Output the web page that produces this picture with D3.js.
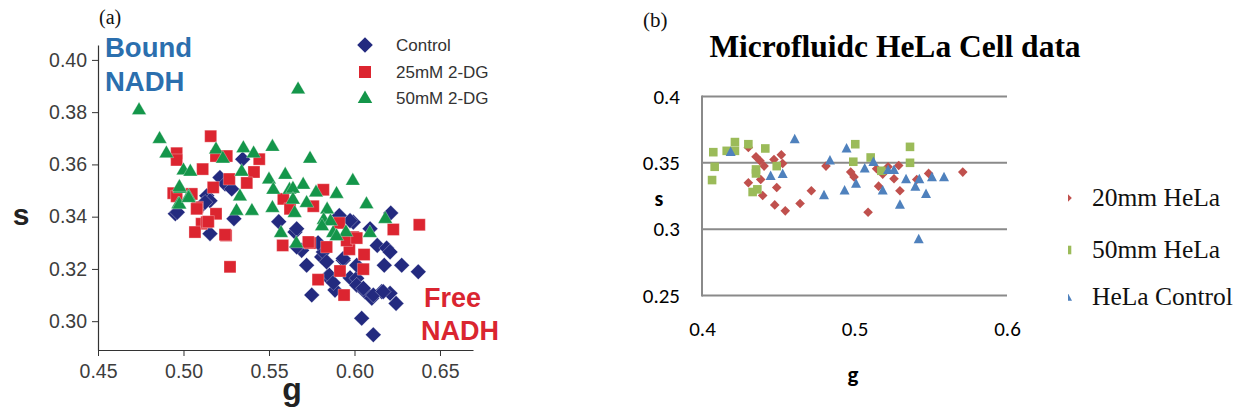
<!DOCTYPE html>
<html><head><meta charset="utf-8">
<script src="https://cdn.jsdelivr.net/npm/d3@7"></script>
<style>body{margin:0;background:#fff} svg{display:block}</style>
</head><body><svg id="c" width="1247" height="417"></svg>
<script>
// ---------- Panel (a) data ----------
const aSeries = ["Control", "25mM 2-DG", "50mM 2-DG"];
const aControl = [
 [0.5346,0.3620],[0.5213,0.3550],[0.5243,0.3525],[0.5282,0.3506],[0.5136,0.3480],[0.5155,0.3461],
 [0.5116,0.3449],[0.4952,0.3411],[0.4964,0.3417],[0.5295,0.3392],[0.5155,0.3335],[0.5126,0.3455],
 [0.5557,0.3381],[0.5652,0.3341],[0.5662,0.3354],[0.5691,0.3271],[0.5720,0.3214],[0.5750,0.3100],
 [0.5808,0.3246],[0.5841,0.3170],[0.5886,0.3119],[0.5934,0.3233],[0.5993,0.3379],[0.5911,0.3404],
 [0.5974,0.3385],[0.6091,0.3354],[0.6133,0.3290],[0.6188,0.3280],[0.6208,0.3265],[0.6212,0.3414],
 [0.5853,0.3176],[0.5974,0.3166],[0.6013,0.3164],[0.6174,0.3214],[0.6276,0.3214],[0.6373,0.3189],
 [0.6013,0.3138],[0.6061,0.3113],[0.6101,0.3088],[0.6159,0.3113],[0.6208,0.3107],[0.6243,0.3068],
 [0.6042,0.3011],[0.6110,0.2948],[0.5818,0.3265],[0.5837,0.3227],[0.5934,0.3240],[0.6013,0.3214],
 [0.5662,0.3284],[0.6052,0.3126],[0.6110,0.3100],[0.6168,0.3113],[0.5876,0.3147],[0.5787,0.3300]
];
const a25mM = [
 [0.5159,0.3708],[0.4960,0.3643],[0.4960,0.3617],[0.5112,0.3582],[0.5190,0.3632],[0.5253,0.3632],
 [0.5443,0.3620],[0.5412,0.3571],[0.5370,0.3529],[0.5268,0.3544],[0.5174,0.3512],[0.4940,0.3490],
 [0.4960,0.3478],[0.5046,0.3487],[0.5081,0.3436],[0.5190,0.3411],[0.5106,0.3373],[0.5067,0.3341],
 [0.5136,0.3379],[0.5249,0.3328],[0.5272,0.3208],[0.5580,0.3290],[0.5584,0.3468],[0.5818,0.3503],
 [0.5759,0.3440],[0.5911,0.3376],[0.5993,0.3322],[0.5740,0.3299],[0.5837,0.3284],[0.5970,0.3275],
 [0.6056,0.3255],[0.6052,0.3199],[0.5915,0.3192],[0.5787,0.3159],[0.5939,0.3100],[0.6227,0.3351],
 [0.6379,0.3369],[0.5048,0.3487],[0.5077,0.3430],[0.5145,0.3381],[0.5243,0.3331],[0.5623,0.3430],
 [0.5730,0.3303],[0.5954,0.3309],[0.6013,0.3318]
];
const a50mM = [
 [0.474,0.381],[0.486,0.370],[0.490,0.3645],[0.500,0.358],[0.504,0.3575],[0.498,0.351],[0.503,0.348],
 [0.497,0.345],[0.519,0.366],[0.523,0.3625],[0.535,0.3665],[0.541,0.3645],[0.552,0.367],[0.534,0.3575],
 [0.533,0.348],[0.531,0.3425],[0.540,0.3425],[0.550,0.3545],[0.5595,0.3563],[0.5525,0.3506],
 [0.552,0.3436],[0.562,0.3506],[0.557,0.334],[0.565,0.3417],[0.567,0.389],[0.574,0.3625],
 [0.570,0.3525],[0.564,0.351],[0.5775,0.3495],[0.5895,0.349],[0.599,0.354],[0.607,0.345],
 [0.564,0.3468],[0.572,0.3455],[0.618,0.3394],[0.584,0.343],[0.582,0.339],[0.586,0.3385],
 [0.581,0.3366],[0.5875,0.334],[0.595,0.3343],[0.609,0.334],[0.566,0.330],[0.5895,0.3328],
 [0.4976,0.3449],[0.4976,0.3516],[0.503,0.3474]
];
const aXTicks = [0.45, 0.50, 0.55, 0.60, 0.65];
const aYTicks = [0.30, 0.32, 0.34, 0.36, 0.38, 0.40];

// ---------- Panel (b) data ----------
const bSeries = ["20mm HeLa", "50mm HeLa", "HeLa Control"];
const b20mm = [
 [0.4304,0.3616],[0.4354,0.3545],[0.4380,0.3515],[0.4407,0.3475],[0.4304,0.3350],[0.4385,0.3374],
 [0.4398,0.3254],[0.4490,0.3314],[0.4472,0.3525],[0.4520,0.3560],[0.4529,0.3495],[0.4477,0.3183],
 [0.4546,0.3138],[0.4643,0.3193],[0.4717,0.3289],[0.4813,0.3475],[0.4975,0.3430],[0.4997,0.3394],
 [0.5089,0.3128],[0.5145,0.3455],[0.5185,0.3415],[0.5220,0.3470],[0.5259,0.3380],[0.5290,0.3480],
 [0.5158,0.3324],[0.5298,0.3289],[0.5408,0.3374],[0.5486,0.3420],[0.5710,0.3430]
];
const b50mm = [
 [0.4074,0.3580],[0.4083,0.3470],[0.4066,0.3370],[0.4162,0.3590],[0.4216,0.3656],[0.4216,0.3590],
 [0.4304,0.3640],[0.4415,0.3608],[0.4354,0.3450],[0.4354,0.3420],[0.4490,0.3475],[0.4332,0.3280],
 [0.4363,0.3300],[0.5005,0.3640],[0.4992,0.3508],[0.5106,0.3540],[0.5176,0.3440],[0.5364,0.3620],
 [0.5364,0.3500]
];
const bControl = [
 [0.4188,0.3580],[0.4450,0.3400],[0.4529,0.3415],[0.4608,0.3676],[0.4839,0.3515],[0.4800,0.3254],
 [0.4935,0.3289],[0.4948,0.3606],[0.5010,0.3340],[0.5067,0.3455],[0.5124,0.3505],[0.5185,0.3289],
 [0.5220,0.3445],[0.5259,0.3445],[0.5298,0.3183],[0.5338,0.3374],[0.5399,0.3319],[0.5425,0.3374],
 [0.5469,0.3264],[0.5508,0.3389],[0.5587,0.3389],[0.5421,0.2922]
];
const bXTicks = [0.4, 0.5, 0.6];
const bYTicks = [0.25, 0.3, 0.35, 0.4];

// ---------- shapes ----------
const diamond = r => `M0,${-r}L${r},0L0,${r}L${-r},0Z`;
const square = r => `M${-r},${-r}h${2*r}v${2*r}h${-2*r}Z`;
const triangle = (w, h) => `M0,${-h*0.6}L${w/2},${h*0.4}L${-w/2},${h*0.4}Z`;

const svg = d3.select("#c");
const sans = "'Liberation Sans', Arial, Helvetica, sans-serif";
const serif = "'Liberation Serif', 'Times New Roman', serif";
const calib = "Carlito, Calibri, Lato, 'Open Sans', sans-serif";

// ================= Panel (a) =================
const xA = d3.scaleLinear().domain([0.45, 0.6693]).range([98, 473]);
const yA = d3.scaleLinear().domain([0.28897, 0.4057]).range([350, 45]);

svg.append("text").attr("x", 99).attr("y", 24).attr("font-family", serif)
  .attr("font-size", 20).attr("fill", "#111").text("(a)");

const gxA = svg.append("g").attr("transform", "translate(0,350)")
  .call(d3.axisBottom(xA).tickValues(aXTicks).tickFormat(d3.format(".2f"))
        .tickSize(6).tickSizeOuter(0).tickPadding(8));
const gyA = svg.append("g").attr("transform", "translate(98,0)")
  .call(d3.axisLeft(yA).tickValues(aYTicks).tickFormat(d3.format(".2f"))
        .tickSize(6).tickSizeOuter(0).tickPadding(5));
[gxA, gyA].forEach(g => {
  g.select(".domain").attr("stroke", "#333").attr("stroke-width", 1.2);
  g.selectAll(".tick line").attr("stroke", "#333");
  g.selectAll(".tick text").attr("font-family", sans).attr("font-size", 19.5).attr("fill", "#3d3d3d");
});

svg.append("text").attr("x", 292).attr("y", 400).attr("text-anchor", "middle")
  .attr("font-family", sans).attr("font-weight", "bold").attr("font-size", 32).attr("fill", "#222").text("g");
svg.append("text").attr("x", 21).attr("y", 225).attr("text-anchor", "middle")
  .attr("font-family", sans).attr("font-weight", "bold").attr("font-size", 30).attr("fill", "#222").text("s");

svg.append("text").attr("x", 105).attr("y", 57).attr("font-family", sans).attr("font-weight", "bold")
  .attr("font-size", 27.5).attr("fill", "#2b6fae").text("Bound");
svg.append("text").attr("x", 105).attr("y", 91).attr("font-family", sans).attr("font-weight", "bold")
  .attr("font-size", 27.5).attr("fill", "#2b6fae").text("NADH");
svg.append("text").attr("x", 424).attr("y", 307).attr("font-family", sans).attr("font-weight", "bold")
  .attr("font-size", 27).attr("fill", "#da2530").text("Free");
svg.append("text").attr("x", 421).attr("y", 340).attr("font-family", sans).attr("font-weight", "bold")
  .attr("font-size", 27).attr("fill", "#da2530").text("NADH");

const aStyles = [
  {data: aControl, color: "#232a7f", path: diamond(7.8)},
  {data: a25mM, color: "#dc2530", path: square(6)},
  {data: a50mM, color: "#14964a", path: triangle(14.5, 12.5)}
];
aStyles.forEach(st => {
  svg.append("g").selectAll("path").data(st.data).join("path")
    .attr("transform", d => `translate(${xA(d[0])},${yA(d[1])})`)
    .attr("d", st.path).attr("fill", st.color)
    .attr("stroke", "#fff").attr("stroke-width", 0.5).attr("stroke-opacity", 0.6);
});

// legend (a)
const legA = svg.append("g");
aSeries.forEach((name, i) => {
  const y = [45, 72, 98][i];
  legA.append("path").attr("transform", `translate(365,${y})`)
    .attr("d", aStyles[i].path).attr("fill", aStyles[i].color);
  legA.append("text").attr("x", 396).attr("y", y).attr("dy", "0.35em")
    .attr("font-family", sans).attr("font-size", 17).attr("fill", "#333").text(name);
});

// ================= Panel (b) =================
const xB = d3.scaleLinear().domain([0.4, 0.6]).range([702, 1007]);
const yB = d3.scaleLinear().domain([0.25, 0.4]).range([295.6, 96.4]);

svg.append("text").attr("x", 643).attr("y", 27).attr("font-family", serif)
  .attr("font-size", 21).attr("fill", "#111").text("(b)");
svg.append("text").attr("x", 895).attr("y", 57).attr("text-anchor", "middle")
  .attr("font-family", serif).attr("font-weight", "bold").attr("font-size", 31.5)
  .attr("fill", "#000").text("Microfluidc HeLa Cell data");

svg.append("g").selectAll("line").data(bYTicks).join("line")
  .attr("x1", 702).attr("x2", 1007).attr("y1", d => yB(d)).attr("y2", d => yB(d))
  .attr("stroke", "#8a8a8a").attr("stroke-width", 2);
svg.append("line").attr("x1", 702).attr("x2", 702).attr("y1", yB(0.4) - 1).attr("y2", yB(0.25) + 1)
  .attr("stroke", "#8a8a8a").attr("stroke-width", 2);

const gyB = svg.append("g").attr("transform", "translate(702,0)")
  .call(d3.axisLeft(yB).tickValues(bYTicks).tickFormat(d3.format("")).tickSize(0).tickPadding(22));
const gxB = svg.append("g").attr("transform", `translate(0,${yB(0.25)})`)
  .call(d3.axisBottom(xB).tickValues(bXTicks).tickFormat(d3.format("")).tickSize(0).tickPadding(25));
[gxB, gyB].forEach(g => {
  g.select(".domain").remove();
  g.selectAll(".tick text").attr("font-family", calib).attr("font-size", 21).attr("fill", "#000");
});

svg.append("text").attr("x", 853).attr("y", 382).attr("text-anchor", "middle")
  .attr("font-family", calib).attr("font-weight", "bold").attr("font-size", 23).attr("fill", "#000").text("g");
svg.append("text").attr("x", 659).attr("y", 206).attr("text-anchor", "middle")
  .attr("font-family", calib).attr("font-weight", "bold").attr("font-size", 22).attr("fill", "#000").text("s");

const bStyles = [
  {data: b20mm, color: "#c0504d", path: diamond(4.8)},
  {data: b50mm, color: "#9bbb59", path: square(4.3)},
  {data: bControl, color: "#4f81bd", path: triangle(10, 9.5)}
];
bStyles.forEach(st => {
  svg.append("g").selectAll("path").data(st.data).join("path")
    .attr("transform", d => `translate(${xB(d[0])},${yB(d[1])})`)
    .attr("d", st.path).attr("fill", st.color);
});

// legend (b): markers partly hidden at the left, as in the original
svg.append("defs").append("clipPath").attr("id", "legclip")
  .append("rect").attr("x", 1068).attr("y", 150).attr("width", 20).attr("height", 180);
const legB = svg.append("g");
bSeries.forEach((name, i) => {
  const y = [198, 250, 297][i];
  legB.append("g").attr("clip-path", "url(#legclip)")
    .append("path").attr("transform", `translate(1067,${y})`)
    .attr("d", bStyles[i].path).attr("fill", bStyles[i].color);
  legB.append("text").attr("x", 1092).attr("y", y).attr("dy", "0.33em")
    .attr("font-family", serif).attr("font-size", 25.5).attr("fill", "#111").text(name);
});
</script></body></html>
